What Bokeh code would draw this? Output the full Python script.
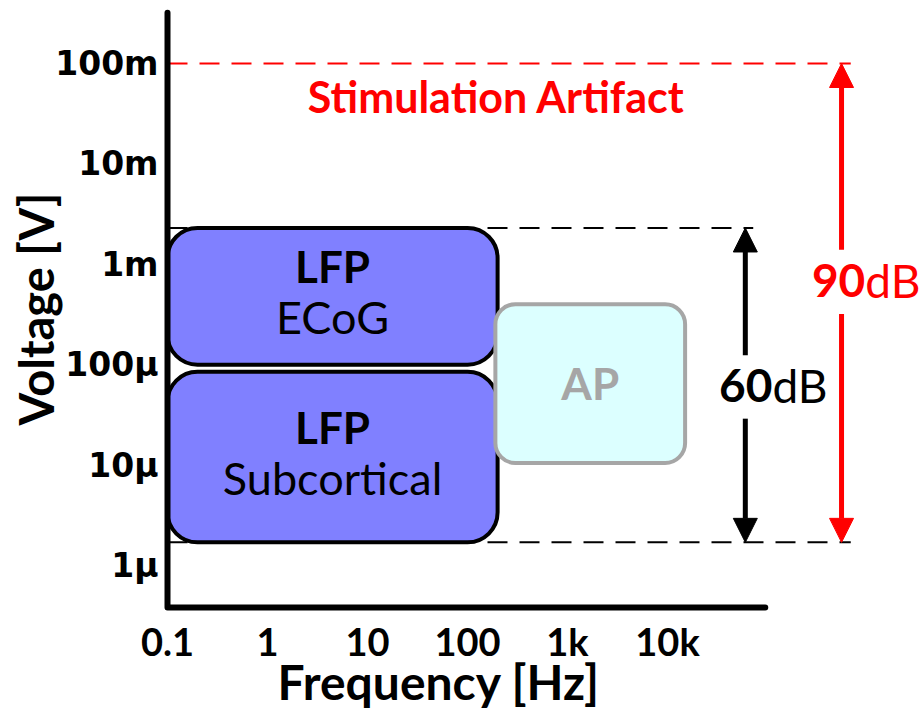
import numpy as np
from bokeh.plotting import figure
from bokeh.models import ColumnDataSource, FixedTicker, Range1d, Arrow, NormalHead, Title
from bokeh.core.properties import value
from bokeh.embed import file_html
from bokeh.resources import INLINE

# ---------------- data ----------------
band_title = ["LFP", "LFP", "AP"]
band_subtitle = ["ECoG", "Subcortical", ""]
band_f_lo = [0.1, 0.1, 190.0]          # Hz
band_f_hi = [200.0, 200.0, 15000.0]    # Hz
band_v_lo = [1.0e-4, 1.7e-6, 1.05e-5]  # V
band_v_hi = [2.3e-3, 8.5e-5, 4.0e-4]   # V

x_ticks = [0.1, 1.0, 10.0, 100.0, 1000.0, 10000.0]
x_tick_labels = ["0.1", "1", "10", "100", "1k", "10k"]
y_ticks = [1e-6, 1e-5, 1e-4, 1e-3, 1e-2, 1e-1]
y_tick_labels = ["1μ", "10μ", "100μ", "1m", "10m", "100m"]

stim_level = 0.1        # V, stimulation artifact level
signal_top = 2.3e-3     # V, top of neural signal range
signal_bottom = 1.7e-6  # V, bottom of neural signal range
range_db = ["60", "90"]

# ---------------- annotation placement (data coords) ----------------
X_RANGE = (10 ** -1.04, 10 ** 6.55)
Y_RANGE = (10 ** -6.518, 10 ** -0.3725)
axis_origin = (0.1, 3.82e-7)
axis_x_end = 9.5e4
axis_y_end = 0.32
dash_end_long = 6.8e5
dash_end_short = 7.2e4
arrow60_x = 6.0e4
arrow90_x = 5.5e5
gap60 = (1.24e-4, 2.9e-5)
gap90 = (1.4e-3, 3.2e-4)
label60_pos = (1.12e5, 4.2e-5)
label90_pos = (9.5e5, 4.67e-4)
stim_label_pos = (195.0, 0.0318)
TEXT_SHIFT = -17  # px, baseline correction

FONT = "Lato"
BLUE = "#8080FF"
RED = "#FF0000"
GRAY = "#A6A6A6"
CYAN = "#DCFFFF"

p = figure(width=922, height=709, x_axis_type="log", y_axis_type="log",
           x_range=Range1d(*X_RANGE), y_range=Range1d(*Y_RANGE),
           output_backend="svg", toolbar_location=None,
           min_border_left=163, min_border_right=0, min_border_top=0, min_border_bottom=92)
p.grid.visible = False
p.outline_line_color = None
p.background_fill_color = "white"
p.border_fill_color = "white"

for ax in (p.xaxis[0], p.yaxis[0]):
    ax.axis_line_color = None
    ax.major_tick_line_color = None
    ax.minor_tick_line_color = None
    ax.major_tick_in = 0
    ax.major_tick_out = 0
    ax.minor_tick_in = 0
    ax.minor_tick_out = 0

p.xaxis.ticker = FixedTicker(ticks=x_ticks)
p.xaxis.major_label_overrides = dict(zip(x_ticks, x_tick_labels))
p.xaxis.major_label_text_font = FONT
p.xaxis.major_label_text_font_style = "bold"
p.xaxis.major_label_text_font_size = "38px"
p.xaxis.major_label_text_color = "black"
p.xaxis.major_label_standoff = 0

p.yaxis.ticker = FixedTicker(ticks=y_ticks)
p.yaxis.major_label_overrides = dict(zip(y_ticks, y_tick_labels))
p.yaxis.major_label_text_font = "DejaVu Sans"
p.yaxis.major_label_text_font_style = "bold"
p.yaxis.major_label_text_font_size = "33px"
p.yaxis.major_label_text_color = "black"
p.yaxis.major_label_standoff = 5
p.yaxis.axis_label = "Voltage [V]"
p.yaxis.axis_label_text_font = FONT
p.yaxis.axis_label_text_font_style = "bold"
p.yaxis.axis_label_text_font_size = "47px"
p.yaxis.axis_label_text_color = "black"
p.yaxis.axis_label_standoff = -12

xt = Title(text="Frequency [Hz]", align="left", offset=114, standoff=-28, vertical_align="top",
           text_font=FONT, text_font_style="bold", text_font_size="48px", text_color="black")
p.add_layout(xt, "below")

# dashed reference lines
p.line([axis_origin[0], dash_end_long], [stim_level, stim_level], line_color=RED, line_width=2, line_dash="20 12")
p.line([axis_origin[0], dash_end_short], [signal_top, signal_top], line_color="black", line_width=2, line_dash="20 12")
p.line([axis_origin[0], dash_end_long], [signal_bottom, signal_bottom], line_color="black", line_width=2, line_dash="20 12")

# boxes
lfp = ColumnDataSource(dict(left=band_f_lo[:2], right=band_f_hi[:2], bottom=band_v_lo[:2], top=band_v_hi[:2]))
ap = ColumnDataSource(dict(left=band_f_lo[2:], right=band_f_hi[2:], bottom=band_v_lo[2:], top=band_v_hi[2:]))
p.quad(left="left", right="right", bottom="bottom", top="top", source=lfp,
       fill_color=BLUE, line_color="black", line_width=4, border_radius=30)
p.quad(left="left", right="right", bottom="bottom", top="top", source=ap,
       fill_color=CYAN, line_color=GRAY, line_width=4, border_radius=20)

# axis lines (L shape)
p.line([axis_origin[0], axis_origin[0], axis_x_end], [axis_y_end, axis_origin[1], axis_origin[1]],
       line_color="black", line_width=6, line_cap="round", line_join="round")

# box labels
xc = np.sqrt(np.array(band_f_lo) * np.array(band_f_hi))
yc = np.sqrt(np.array(band_v_lo) * np.array(band_v_hi))
title_off = [(-13 if s else 16) + TEXT_SHIFT for s in band_subtitle]
title_col = ["black" if s else GRAY for s in band_subtitle]
tsrc = ColumnDataSource(dict(x=xc, y=yc, t=band_title, s=band_subtitle, to=title_off, tc=title_col,
                             so=[38 + TEXT_SHIFT] * len(band_title)))
p.text(x="x", y="y", text="t", source=tsrc, y_offset="to", text_color="tc",
       text_font=value(FONT), text_font_style="bold", text_font_size="44px",
       text_align="center", text_baseline="alphabetic")
p.text(x="x", y="y", text="s", source=tsrc, y_offset="so", text_color="black",
       text_font=value(FONT), text_font_style="normal", text_font_size="45px",
       text_align="center", text_baseline="alphabetic")

# stimulation artifact label
p.text(x=[stim_label_pos[0]], y=[stim_label_pos[1]], text=["Stimulation Artifact"], text_color=RED,
       text_font=value(FONT), text_font_style="bold", text_font_size="43px", y_offset=TEXT_SHIFT,
       text_align="center", text_baseline="alphabetic")

# arrows
def add_arrow(x, y_from, y_to, color):
    p.add_layout(Arrow(x_start=x, y_start=y_from, x_end=x, y_end=y_to, line_color=color, line_width=5,
                       end=NormalHead(size=24, fill_color=color, line_color=color, line_width=1)))

add_arrow(arrow60_x, gap60[0], signal_top, "black")
add_arrow(arrow60_x, gap60[1], signal_bottom, "black")
add_arrow(arrow90_x, gap90[0], stim_level, RED)
add_arrow(arrow90_x, gap90[1], signal_bottom, RED)

# dB labels
for (lx, ly), num, col in [(label60_pos, range_db[0], "black"), (label90_pos, range_db[1], RED)]:
    p.text(x=[lx], y=[ly], text=[num], text_color=col, text_font=value(FONT), text_font_style="bold",
           text_font_size="46px", text_align="right", text_baseline="alphabetic", y_offset=TEXT_SHIFT)
    p.text(x=[lx], y=[ly], text=["dB"], text_color=col, text_font=value(FONT), text_font_style="normal",
           text_font_size="46px", text_align="left", text_baseline="alphabetic", y_offset=TEXT_SHIFT)

open("out.html", "w").write(file_html(p, INLINE))
